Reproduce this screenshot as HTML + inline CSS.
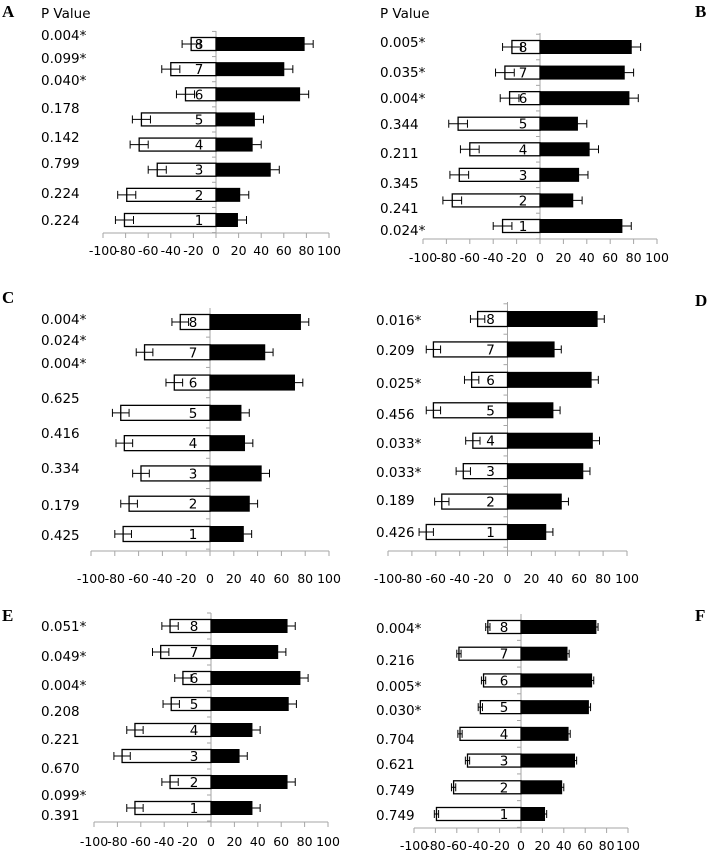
<!DOCTYPE html>
<html><head><meta charset="utf-8">
<style>
html,body{margin:0;padding:0;background:#fff;}
svg{display:block;font-family:"Liberation Sans",sans-serif;}
.pl{font-family:"DejaVu Sans","Liberation Sans",sans-serif;font-size:13.5px;fill:#000;}
.tk{font-family:"DejaVu Sans","Liberation Sans",sans-serif;font-size:12.5px;fill:#000;}
.lt{font-family:"Liberation Serif",serif;font-weight:bold;font-size:17px;fill:#000;}
</style></head>
<body>
<svg id="chart" width="708" height="851" viewBox="0 0 708 851"></svg>
<script>
const categories = [1,2,3,4,5,6,7,8];
const ticks = [-100,-80,-60,-40,-20,0,20,40,60,80,100];
const tickLabels = ["-100","-80","-60","-40","-20","0","20","40","60","80","100"];

const aNeg = [-81,-79,-52,-68,-66,-27,-40,-22];
const aPos = [19,21,48,32,34,74,60,78];
const aErr = [8,8,8,8,8,8,8,8];
const aP = ["0.224","0.224","0.799","0.142","0.178","0.040*","0.099*","0.004*"];

const bNeg = [-32,-75,-69,-60,-70,-26,-30,-24];
const bPos = [70,28,33,42,32,76,72,78];
const bErr = [8,8,8,8,8,8,8,8];
const bP = ["0.024*","0.241","0.345","0.211","0.344","0.004*","0.035*","0.005*"];

const cNeg = [-73,-68,-58,-72,-75,-30,-55,-25];
const cPos = [28,33,43,29,26,71,46,76];
const cErr = [7,7,7,7,7,7,7,7];
const cP = ["0.425","0.179","0.334","0.416","0.625","0.004*","0.024*","0.004*"];

const dNeg = [-68,-55,-37,-29,-62,-30,-62,-25];
const dPos = [32,45,63,71,38,70,39,75];
const dErr = [6,6,6,6,6,6,6,6];
const dP = ["0.426","0.189","0.033*","0.033*","0.456","0.025*","0.209","0.016*"];

const eNeg = [-65,-35,-76,-65,-34,-24,-43,-35];
const ePos = [35,65,24,35,66,76,57,65];
const eErr = [7,7,7,7,7,7,7,7];
const eP = ["0.391","0.099*","0.670","0.221","0.208","0.004*","0.049*","0.051*"];

const fNeg = [-79,-63,-50,-57,-38,-35,-58,-31];
const fPos = [22,38,50,44,63,66,43,70];
const fErr = [2,2,2,2,2,2,2,2];
const fP = ["0.749","0.749","0.621","0.704","0.030*","0.005*","0.216","0.004*"];

const panels = [
 {id:"a",letter:"A",lx:2,ly:17,neg:aNeg,pos:aPos,err:aErr,p:aP,x0:103,x1:329,axisY:233,top:31,y1:220,y8:44,bh:13,px:41,pY:[220,193,163,137,108,80,58,35],pv:{x:41,y:13},tickY:250},
 {id:"b",letter:"B",lx:695,ly:17,neg:bNeg,pos:bPos,err:bErr,p:bP,x0:423,x1:657,axisY:239,top:33,y1:226,y8:47,bh:13,px:380,pY:[230,208,183,153,124,98,72,42],pv:{x:380,y:13},tickY:257},
 {id:"c",letter:"C",lx:2,ly:303,neg:cNeg,pos:cPos,err:cErr,p:cP,x0:91,x1:329,axisY:551,top:308,y1:534,y8:322,bh:15,px:41,pY:[535,505,468,433,398,363,340,319],tickY:578},
 {id:"d",letter:"D",lx:695,ly:306,neg:dNeg,pos:dPos,err:dErr,p:dP,x0:388,x1:627,axisY:551,top:302,y1:532,y8:319,bh:15,px:376,pY:[532,500,472,443,414,383,350,320],tickY:578},
 {id:"e",letter:"E",lx:2,ly:621,neg:eNeg,pos:ePos,err:eErr,p:eP,x0:94,x1:328,axisY:822,top:613,y1:808,y8:626,bh:13,px:41,pY:[815,795,768,739,711,685,656,626],tickY:841},
 {id:"f",letter:"F",lx:695,ly:621,neg:fNeg,pos:fPos,err:fErr,p:fP,x0:414,x1:628,axisY:828,top:614,y1:814,y8:627,bh:13,px:376,pY:[815,790,764,739,710,686,660,628],tickY:845}
];

const NS="http://www.w3.org/2000/svg";
const svg=document.getElementById('chart');
function mk(tag,attrs,parent){const e=document.createElementNS(NS,tag);for(const k in attrs)e.setAttribute(k,attrs[k]);parent.appendChild(e);return e;}

panels.forEach(P=>{
  const g=mk('g',{},svg);
  
  
  const xs=v=>P.x0+(v+100)/200*(P.x1-P.x0);
  const ys=i=>P.y1+(P.y8-P.y1)*(i/(categories.length-1));
  const zx=xs(0);
  const step=(P.y8-P.y1)/(categories.length-1);
  // letter
  const L=mk('text',{x:P.lx,y:P.ly,class:'lt'},g);L.textContent=P.letter;
  
  
  if(P.pv){const t=mk('text',{x:P.pv.x,y:P.pv.y+5,class:'pl'},g);t.textContent='P Value';
    
    }
  // x axis
  const ax=mk('line',{x1:P.x0,y1:P.axisY,x2:P.x1,y2:P.axisY,stroke:'#a6a6a6','stroke-width':1},g);
  
  
  ticks.forEach((t,i)=>{
    mk('line',{x1:xs(t),y1:P.axisY,x2:xs(t),y2:P.axisY+5,stroke:'#a6a6a6'},g);
    const tl=mk('text',{x:xs(t),y:P.tickY+5,class:'tk','text-anchor':'middle'},g);
    tl.textContent=tickLabels[i];
    
    
  });
  // zero axis
  const za=mk('line',{x1:zx,y1:P.top,x2:zx,y2:P.axisY,stroke:'#a6a6a6'},g);
  
  
  for(let k=0;k<=categories.length;k++){
    const yy=P.y1-step/2+k*step;
    if(yy<P.top||yy>P.axisY)continue;
    mk('line',{x1:zx-4,y1:yy,x2:zx,y2:yy,stroke:'#a6a6a6'},g);
  }
  categories.forEach((c,i)=>{
    const y=ys(i),h=P.bh;
    const nx=xs(P.neg[i]);
    const nb=mk('rect',{x:nx,y:y-h/2,width:zx-nx,height:h,fill:'#fff',stroke:'#000','stroke-width':1.3},g);
    
    
    const px=xs(P.pos[i]);
    const pb=mk('rect',{x:zx,y:y-h/2,width:px-zx,height:h,fill:'#000',stroke:'#000'},g);
    
    
    // error bars
    [[P.neg[i],-1],[P.pos[i],1]].forEach(([v,s])=>{
      const a=xs(v-P.err[i]),b=xs(v+P.err[i]);
      mk('line',{x1:a,y1:y,x2:b,y2:y,stroke:'#000'},g);
      mk('line',{x1:a,y1:y-4,x2:a,y2:y+4,stroke:'#000'},g);
      mk('line',{x1:b,y1:y-4,x2:b,y2:y+4,stroke:'#000'},g);
    });
    const cl=mk('text',{x:zx-17,y:y+5,class:'pl','text-anchor':'middle'},g);
    cl.textContent=c;
    
    
    const pl=mk('text',{x:P.px,y:P.pY[i]+5,class:'pl'},g);
    pl.textContent=P.p[i];
    
    
  });
});
</script>
</body></html>
